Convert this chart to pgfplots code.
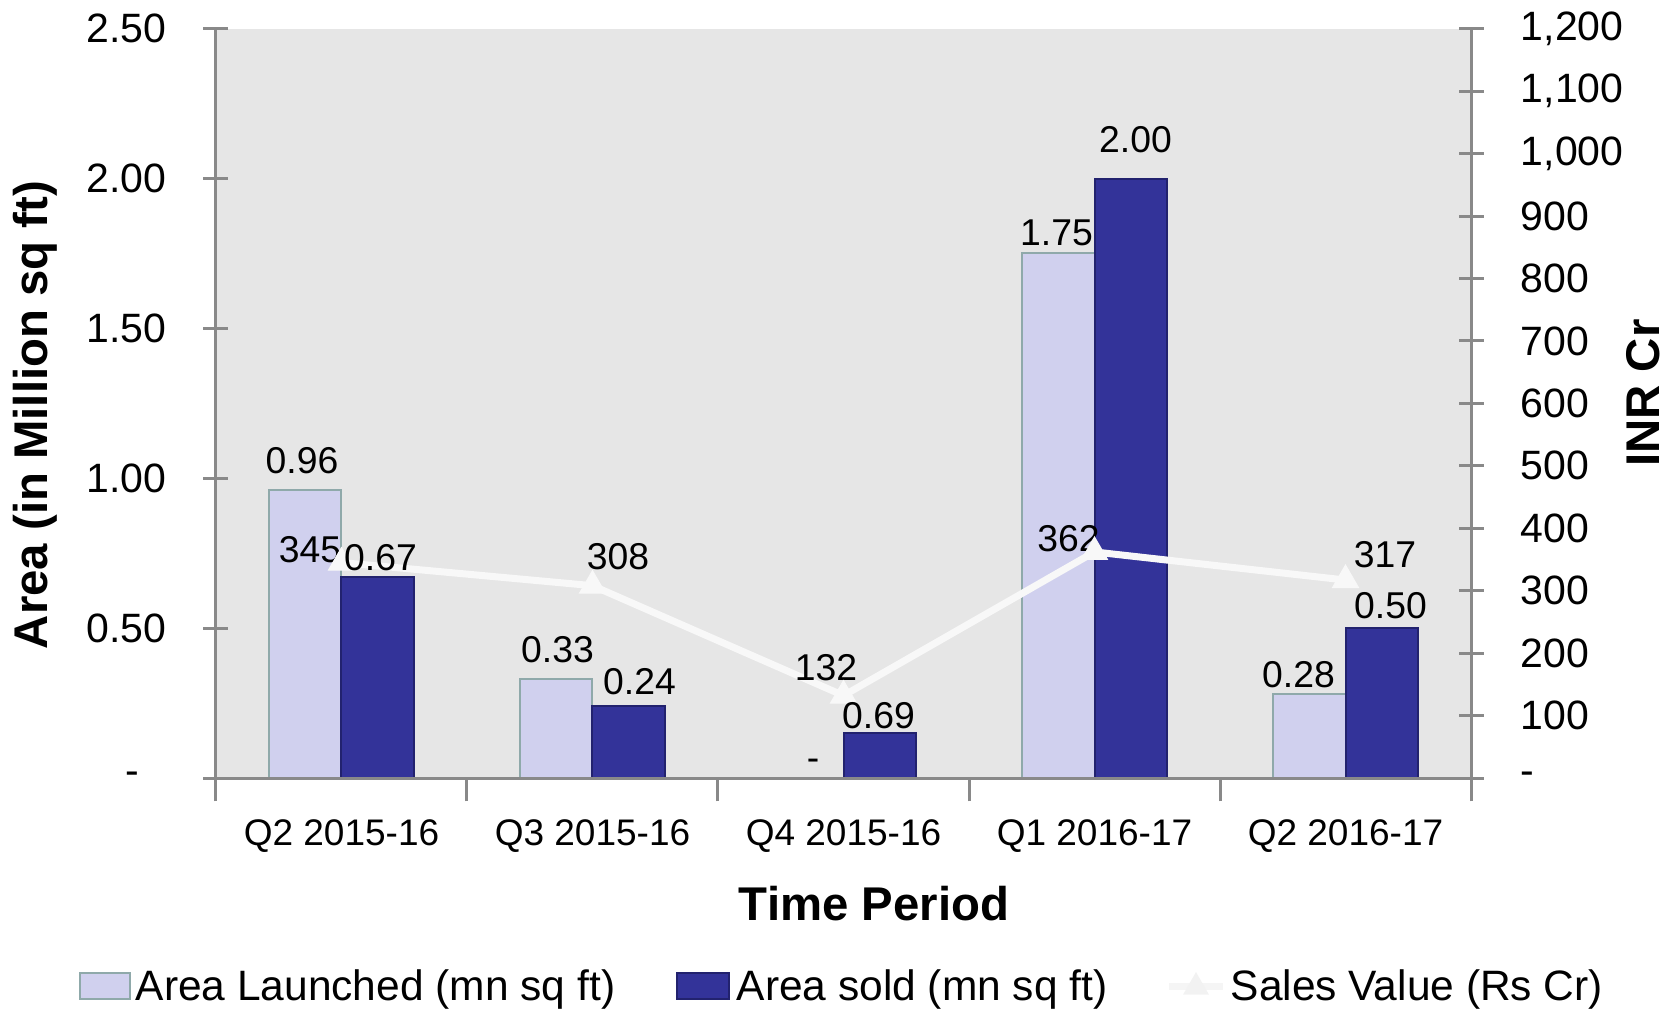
\documentclass[border=0pt]{standalone}
\usepackage{fontspec}
\setmainfont{Liberation Sans}
\usepackage{pgfplots}
\pgfplotsset{compat=1.18}

\definecolor{bggray}{HTML}{E6E6E6}
\definecolor{axgray}{HTML}{898989}
\definecolor{launched}{HTML}{D0D0EE}
\definecolor{launchedline}{HTML}{8FA9AA}
\definecolor{sold}{HTML}{333399}
\definecolor{soldline}{HTML}{22226E}
\definecolor{salesline}{HTML}{F8F8F8}

\newcommand{\tickfont}{\fontsize{12.3}{14}\selectfont}
\newcommand{\catfont}{\fontsize{11.1}{13}\selectfont}
\newcommand{\datafont}{\fontsize{11.2}{13}\selectfont}
\newcommand{\titlefont}{\fontsize{14.2}{16}\selectfont\bfseries}
\newcommand{\legfont}{\fontsize{12.75}{15}\selectfont}

\tikzset{lab/.style={font=\datafont, anchor=base, inner sep=0pt}}

\begin{document}
\begin{tikzpicture}
\useasboundingbox (-64.8pt,-69.3pt) rectangle (435.3pt,233.4pt);

\pgfplotsset{
  base/.style={
    scale only axis, width=376.5pt, height=224.8pt,
    at={(0,0)}, anchor=south west,
    xmin=-0.5, xmax=4.5,
    axis line style={axgray, line width=0.9pt, -},
    tick align=center,
    major tick length=7.5pt,
    minor tick length=7pt,
    every tick/.style={axgray, line width=0.9pt},
  },
}

% bars, left axis
\begin{axis}[base,
  axis on top,
  axis x line*=bottom, axis y line*=left,
  axis background/.style={fill=bggray},
  ymin=0, ymax=2.5,
  ytick={0,0.5,1,1.5,2,2.5},
  yticklabels={-\rule{8pt}{0pt},0.50,1.00,1.50,2.00,2.50},
  yticklabel style={font=\tickfont, anchor=east, inner sep=0pt, xshift=-11pt},
  xtick={0,1,2,3,4},
  xticklabels={Q2 2015-16,Q3 2015-16,Q4 2015-16,Q1 2016-17,Q2 2016-17},
  xticklabel style={font=\catfont, anchor=base, inner sep=0pt, yshift=-12.8pt},
  minor xtick={-0.5,0.5,1.5,2.5,3.5,4.5},
  major x tick style={draw=none},
  ybar=0pt, bar width=0.287,
]
\addplot[fill=launched, draw=launchedline, line width=0.6pt, bar shift=-0.1435]
  coordinates {(0,0.96) (1,0.33) (2,0) (3,1.75) (4,0.28)};
\addplot[fill=sold, draw=soldline, line width=0.6pt, bar shift=0.1435]
  coordinates {(0,0.67) (1,0.24) (2,0.15) (3,2.00) (4,0.50)};

% anchors for the bar value labels (drawn after the line)
\coordinate (a0) at (axis cs:-0.1435,0.96);
\coordinate (a1) at (axis cs:0.8565,0.33);
\coordinate (a2) at (axis cs:1.8565,0);
\coordinate (a3) at (axis cs:2.8565,1.75);
\coordinate (a4) at (axis cs:3.8565,0.28);
\coordinate (b0) at (axis cs:0.1435,0.67);
\coordinate (b1) at (axis cs:1.1435,0.24);
\coordinate (b2) at (axis cs:2.1435,0.15);
\coordinate (b3) at (axis cs:3.1435,2.00);
\coordinate (b4) at (axis cs:4.1435,0.50);
\end{axis}

% sales line, right axis
\begin{axis}[base,
  axis x line=none, axis y line*=right,
  ymin=0, ymax=1200,
  ytick={0,100,200,300,400,500,600,700,800,900,1000,1100,1200},
  yticklabels={-,100,200,300,400,500,600,700,800,900,{1,000},{1,100},{1,200}},
  yticklabel style={font=\tickfont, anchor=west, inner sep=0pt, xshift=11pt},
]
\addplot[salesline, line width=2.1pt, mark=triangle*, mark size=4.5pt,
  mark options={fill=salesline, draw=salesline, line width=0.3pt}]
  coordinates {(0,345) (1,308) (2,132) (3,362) (4,317)};
\node[lab, xshift=-9.45pt, yshift=0pt] at (axis cs:0,345) {345};
\node[lab, xshift=7.65pt, yshift=5pt] at (axis cs:1,308) {308};
\node[lab, xshift=-5.25pt, yshift=4.4pt] at (axis cs:2,132) {132};
\node[lab, xshift=-7.8pt, yshift=0pt] at (axis cs:3,362) {362};
\node[lab, xshift=11.85pt, yshift=3.9pt] at (axis cs:4,317) {317};
\end{axis}

% bar value labels
\node[lab, xshift=-1.05pt, yshift=5.1pt] at (a0) {0.96};
\node[lab, xshift=0.3pt, yshift=5.1pt] at (a1) {0.33};
\node[lab, xshift=1.65pt, yshift=2.4pt] at (a2) {-};
\node[lab, xshift=-0.6pt, yshift=2.4pt] at (a3) {1.75};
\node[lab, xshift=-3.3pt, yshift=2.1pt] at (a4) {0.28};
\node[lab, xshift=0.9pt, yshift=2.1pt] at (b0) {0.67};
\node[lab, xshift=3.3pt, yshift=3.6pt] at (b1) {0.24};
\node[lab, xshift=-0.3pt, yshift=1.5pt] at (b2) {0.69};
\node[lab, xshift=1.5pt, yshift=7.8pt] at (b3) {2.00};
\node[lab, xshift=2.7pt, yshift=3.0pt] at (b4) {0.50};

% axis titles
\node[font=\titlefont, inner sep=0pt] at (197.4pt,-37.8pt) {Time Period};
\node[font=\titlefont, inner sep=0pt, rotate=90] at (-54.3pt,108.9pt) {Area (in Million sq ft)};
\node[font=\titlefont, inner sep=0pt, rotate=90] at (428.1pt,115.5pt) {INR Cr};

% legend
\filldraw[fill=launched, draw=launchedline, line width=0.6pt] (-40.8pt,-66.3pt) rectangle (-25.8pt,-58.5pt);
\node[font=\legfont, inner sep=0pt, anchor=base west] at (-24.3pt,-66.6pt) {Area Launched (mn sq ft)};
\filldraw[fill=sold, draw=soldline, line width=0.6pt] (138.3pt,-66.3pt) rectangle (153.9pt,-58.5pt);
\node[font=\legfont, inner sep=0pt, anchor=base west] at (156pt,-66.6pt) {Area sold (mn sq ft)};
\draw[gray!8, line width=2.1pt] (285.9pt,-62.4pt) -- (302.1pt,-62.4pt);
\fill[gray!10] (294pt,-58.2pt) -- (290.1pt,-65pt) -- (297.9pt,-65pt) -- cycle;
\node[font=\legfont, inner sep=0pt, anchor=base west] at (304.2pt,-66.6pt) {Sales Value (Rs Cr)};
\end{tikzpicture}
\end{document}
